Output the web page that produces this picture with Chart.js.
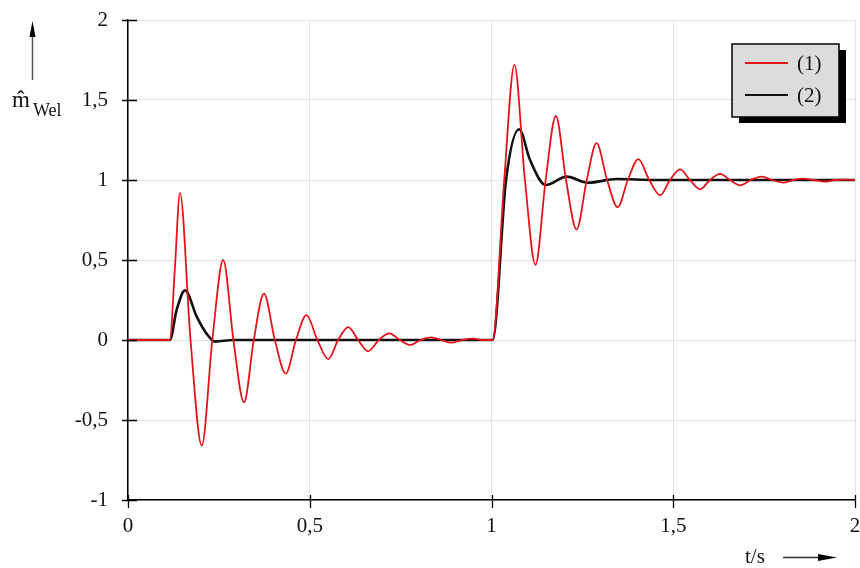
<!DOCTYPE html>
<html>
<head>
<meta charset="utf-8">
<script src="https://cdn.jsdelivr.net/npm/chart.js@4.4.1/dist/chart.umd.min.js"></script>
<style>
html, body { margin: 0; padding: 0; background: #fff; }
</style>
</head>
<body>
<canvas id="canvas" width="860" height="568"></canvas>
<script>
// series (1): red, lightly damped
var t1 = [0, 0.115, 0.129, 0.143, 0.172, 0.203, 0.232, 0.262, 0.290, 0.319,
          0.346, 0.374, 0.404, 0.434, 0.462, 0.491, 0.521, 0.551, 0.578, 0.606,
          0.633, 0.661, 0.690, 0.719, 0.748, 0.776, 0.805, 0.834, 0.862, 0.890,
          0.920, 0.950, 0.975, 1.003, 1.035, 1.063, 1.092, 1.121, 1.149, 1.177,
          1.205, 1.234, 1.262, 1.289, 1.318, 1.347, 1.375, 1.404, 1.434, 1.464,
          1.491, 1.519, 1.546, 1.574, 1.601, 1.629, 1.656, 1.684, 1.713, 1.743,
          1.773, 1.803, 1.830, 1.858, 1.887, 1.917, 1.945, 1.973, 2.0]
var y1 = [0, 0, 0.45, 0.92, 0, -0.66, 0, 0.50, 0, -0.39,
          0, 0.29, 0, -0.21, 0, 0.155, 0, -0.12, 0, 0.08,
          0, -0.07, 0, 0.042, 0, -0.031, 0, 0.017, 0, -0.017,
          0, 0.008, 0, 0, 1.0, 1.72, 1, 0.47, 1, 1.40,
          1, 0.69, 1, 1.23, 1, 0.83, 1, 1.13, 1, 0.905,
          1, 1.067, 1, 0.942, 1, 1.038, 1, 0.967, 1, 1.021,
          1, 0.983, 1, 1.008, 1, 0.99, 1, 1.002, 1]

// series (2): black, well damped
var t2 = [0, 0.115, 0.134, 0.157, 0.189, 0.216, 0.239, 0.29, 1.003, 1.04,
          1.076, 1.106, 1.149, 1.207, 1.266, 1.344, 1.45, 2.0]
var y2 = [0, 0, 0.19, 0.31, 0.146, 0.04, -0.01, 0, 0, 1.0,
          1.317, 1.125, 0.969, 1.021, 0.983, 1.006, 1.0, 1.0]

var labels = ["(1)", "(2)"]
var xTicks = [0, 0.5, 1, 1.5, 2]
var yTicks = [-1, -0.5, 0, 0.5, 1, 1.5, 2]

function pts(t, y) {
    return t.map(function(v, i) { return { x: v, y: y[i] } })
}
function comma(v) {
    return String(v).replace(".", ",")
}

var serif = "'Liberation Serif', 'DejaVu Serif', serif"

var extras = {
    id: "extras",
    afterDraw: function(chart) {
        var ctx = chart.ctx, a = chart.chartArea
        var sx = chart.scales.x, sy = chart.scales.y
        ctx.save()
        ctx.strokeStyle = "#000"
        ctx.lineWidth = 1.3
        ctx.beginPath()
        yTicks.forEach(function(v) {
            var py = Math.round(sy.getPixelForValue(v)) + 0.5
            ctx.moveTo(a.left - 6, py); ctx.lineTo(a.left + 9, py)
        })
        xTicks.forEach(function(v) {
            var px = Math.round(sx.getPixelForValue(v)) + 0.5
            ctx.moveTo(px, a.bottom - 5); ctx.lineTo(px, a.bottom + 8)
        })
        ctx.stroke()

        // legend box with drop shadow
        var lx = a.right - 123, ly = a.top + 24, lw = 107, lh = 73
        ctx.fillStyle = "#000"
        ctx.fillRect(lx + 7, ly + 6, lw, lh)
        ctx.fillStyle = "#dcdcdc"
        ctx.fillRect(lx, ly, lw, lh)
        ctx.lineWidth = 1.5
        ctx.strokeRect(lx, ly, lw, lh)
        ctx.font = "21px " + serif
        ctx.textBaseline = "middle"
        ctx.textAlign = "left"
        chart.data.datasets.forEach(function(ds, i) {
            var yy = ly + 19 + i * 32
            ctx.strokeStyle = ds.borderColor
            ctx.lineWidth = i == 0 ? 1.8 : 2
            ctx.beginPath(); ctx.moveTo(lx + 13, yy); ctx.lineTo(lx + 56, yy); ctx.stroke()
            ctx.fillStyle = "#111"
            ctx.fillText(ds.label, lx + 65, yy + 1)
        })

        // y axis title with arrow
        ctx.fillStyle = "#111"
        ctx.textBaseline = "alphabetic"
        ctx.font = "23px " + serif
        ctx.fillText("m\u0302", 12, 107)
        ctx.font = "18px " + serif
        ctx.fillText("Wel", 33, 116)
        ctx.strokeStyle = "#555"
        ctx.lineWidth = 1.5
        ctx.beginPath(); ctx.moveTo(32.5, 80); ctx.lineTo(32.5, 34); ctx.stroke()
        ctx.fillStyle = "#000"
        ctx.beginPath(); ctx.moveTo(32.5, 21); ctx.lineTo(35.5, 37); ctx.lineTo(29.5, 37); ctx.closePath(); ctx.fill()

        // x axis title with arrow
        ctx.fillStyle = "#111"
        ctx.font = "21px " + serif
        ctx.fillText("t/s", 745, 563)
        ctx.strokeStyle = "#333"
        ctx.beginPath(); ctx.moveTo(783, 557.5); ctx.lineTo(822, 557.5); ctx.stroke()
        ctx.fillStyle = "#000"
        ctx.beginPath(); ctx.moveTo(837, 557.5); ctx.lineTo(818, 554); ctx.lineTo(818, 561); ctx.closePath(); ctx.fill()
        ctx.restore()
    }
}

var tickFont = { family: serif, size: 21 }

new Chart(document.getElementById("canvas").getContext("2d"), {
    type: "line",
    data: {
        datasets: [{
            label: labels[0],
            data: pts(t1, y1),
            borderColor: "#e5141b",
            borderWidth: 1.8,
            pointRadius: 0,
            cubicInterpolationMode: "monotone"
        }, {
            label: labels[1],
            data: pts(t2, y2),
            borderColor: "#111",
            borderWidth: 2.6,
            pointRadius: 0,
            cubicInterpolationMode: "monotone"
        }]
    },
    options: {
        responsive: false,
        devicePixelRatio: 1,
        animation: false,
        layout: { padding: { top: 20, right: 5, left: 0, bottom: 0 } },
        plugins: { legend: { display: false }, tooltip: { enabled: false } },
        scales: {
            x: {
                type: "linear", min: 0, max: 2,
                afterBuildTicks: function(s) { s.ticks = xTicks.map(function(v) { return { value: v } }) },
                afterFit: function(s) { s.height = 68; s.paddingLeft = 0; s.paddingRight = 0 },
                ticks: { font: tickFont, color: "#111", padding: 14, maxRotation: 0,
                         callback: function(v) { return comma(v) } },
                grid: { color: "#e3e3e3", drawTicks: false },
                border: { color: "#000", width: 1.5 }
            },
            y: {
                type: "linear", min: -1, max: 2,
                afterBuildTicks: function(s) { s.ticks = yTicks.map(function(v) { return { value: v } }) },
                afterFit: function(s) { s.width = 128; s.paddingTop = 0; s.paddingBottom = 0 },
                ticks: { font: tickFont, color: "#111", padding: 20,
                         callback: function(v) { return comma(v) } },
                grid: { color: "#e3e3e3", drawTicks: false },
                border: { color: "#000", width: 1.5 }
            }
        }
    },
    plugins: [extras]
})
</script>
</body>
</html>
